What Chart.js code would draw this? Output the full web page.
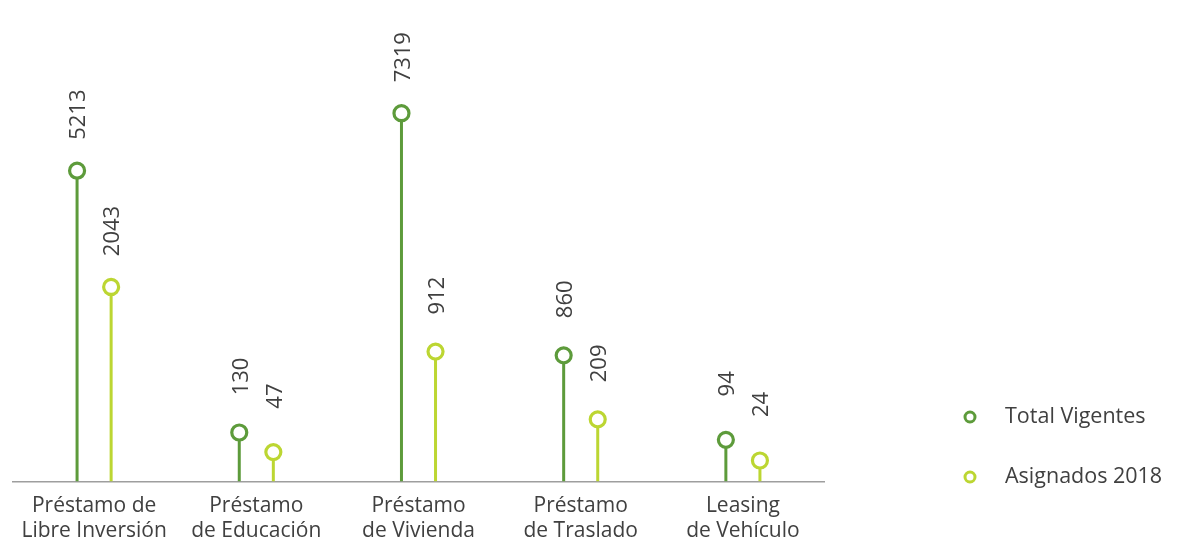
<!DOCTYPE html>
<html>
<head>
<meta charset="utf-8">
<script src="https://cdn.jsdelivr.net/npm/chart.js@4.4.1/dist/chart.umd.min.js"></script>
<style>
  html, body { margin: 0; padding: 0; background: #ffffff; }
  #wrap { width: 1177px; height: 545px; position: relative; }
</style>
</head>
<body>
<div id="wrap"><canvas id="c" width="1177" height="545"></canvas></div>
<script>
// ---- data ----
const categories = [
  ['Préstamo de', 'Libre Inversión'],
  ['Préstamo', 'de Educación'],
  ['Préstamo', 'de Vivienda'],
  ['Préstamo', 'de Traslado'],
  ['Leasing', 'de Vehículo']
];
const seriesNames = ['Total Vigentes', 'Asignados 2018'];
const totalVigentes = [5213, 130, 7319, 860, 94];
const asignados2018 = [2043, 47, 912, 209, 24];

// ---- styles ----
const colors = ['#5d9b3b', '#bcd632'];
const textColor = '#404040';
const fontFamily = "'Open Sans', 'Noto Sans', sans-serif";

// square-root value scale (the reference compresses large values)
class SqrtScale extends Chart.LinearScale {
  static id = 'sqrt';
  static defaults = Chart.LinearScale.defaults;
  getPixelForValue(value) {
    if (value === null || value === undefined || isNaN(value)) return NaN;
    const mn = Math.sqrt(Math.max(this.min, 0));
    const mx = Math.sqrt(Math.max(this.max, 0));
    const s = Math.sqrt(Math.max(value, 0));
    return this.getPixelForDecimal((s - mn) / (mx - mn));
  }
  getValueForPixel(pixel) {
    const mn = Math.sqrt(Math.max(this.min, 0));
    const mx = Math.sqrt(Math.max(this.max, 0));
    const d = this.getDecimalForPixel(pixel);
    const s = mn + d * (mx - mn);
    return s * s;
  }
}
Chart.register(SqrtScale);

const lollipopPlugin = {
  id: 'lollipop',
  afterDatasetsDraw(chart) {
    const ctx = chart.ctx;
    chart.data.datasets.forEach((ds, di) => {
      const meta = chart.getDatasetMeta(di);
      meta.data.forEach((el, i) => {
        ctx.save();
        ctx.beginPath();
        ctx.arc(el.x, el.y, 7.5, 0, Math.PI * 2);
        ctx.fillStyle = '#ffffff';
        ctx.fill();
        ctx.lineWidth = 3.2;
        ctx.strokeStyle = ds.borderColor;
        ctx.stroke();
        ctx.restore();
        ctx.save();
        ctx.translate(el.x + 2, el.y - 56);
        ctx.rotate(-Math.PI / 2);
        ctx.font = "22px " + fontFamily;
        ctx.fillStyle = textColor;
        ctx.textAlign = 'center';
        ctx.textBaseline = 'middle';
        ctx.fillText(String(ds.data[i]), 0, 0);
        ctx.restore();
      });
    });
  }
};

const legendPlugin = {
  id: 'sideLegend',
  afterDraw(chart) {
    const ctx = chart.ctx;
    chart.data.datasets.forEach((ds, di) => {
      const y = 417 + di * 60;
      ctx.save();
      ctx.beginPath();
      ctx.arc(970, y, 5, 0, Math.PI * 2);
      ctx.fillStyle = '#ffffff';
      ctx.fill();
      ctx.lineWidth = 3;
      ctx.strokeStyle = ds.borderColor;
      ctx.stroke();
      ctx.font = "21.5px " + fontFamily;
      ctx.fillStyle = textColor;
      ctx.textAlign = 'left';
      ctx.textBaseline = 'middle';
      ctx.fillText(ds.label, 1005, y);
      ctx.restore();
    });
  }
};

new Chart(document.getElementById('c'), {
  type: 'bar',
  data: {
    labels: categories,
    datasets: [
      { label: seriesNames[0], data: totalVigentes, backgroundColor: colors[0], borderColor: colors[0] },
      { label: seriesNames[1], data: asignados2018, backgroundColor: colors[1], borderColor: colors[1] }
    ]
  },
  options: {
    responsive: false,
    animation: false,
    devicePixelRatio: 1,
    categoryPercentage: 0.42,
    barPercentage: 1,
    maxBarThickness: 3,
    layout: { padding: { left: 13, right: 353, top: 51, bottom: -11 } },
    plugins: { legend: { display: false }, tooltip: { enabled: false } },
    scales: {
      x: {
        grid: { display: false, drawTicks: false },
        border: { display: true, color: '#9e9e9e', width: 1.5 },
        ticks: {
          color: textColor,
          padding: 12,
          maxRotation: 0,
          autoSkip: false,
          font: { family: fontFamily, size: 21, lineHeight: 1.2 }
        }
      },
      y: {
        type: 'sqrt',
        min: 0,
        max: 10000,
        display: false
      }
    }
  },
  plugins: [lollipopPlugin, legendPlugin]
});
</script>
</body>
</html>
